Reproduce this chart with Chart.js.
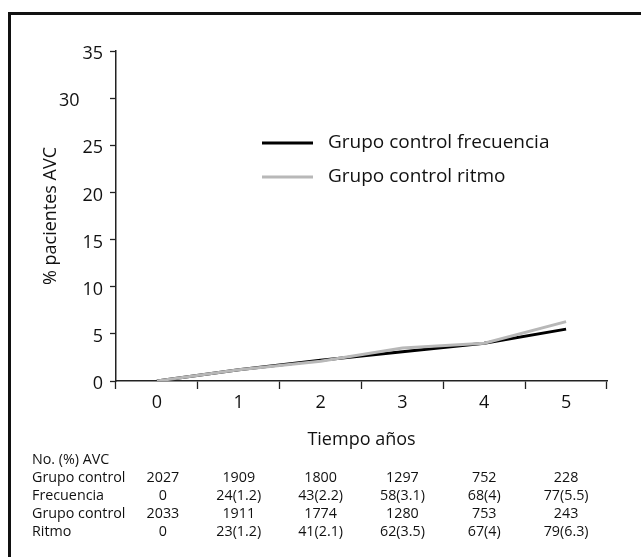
<!DOCTYPE html>
<html>
<head>
<meta charset="utf-8">
<script src="https://cdn.jsdelivr.net/npm/chart.js@4"></script>
<style>
  html, body { margin: 0; padding: 0; background: #fff; }
  #c { display: block; }
</style>
</head>
<body>
<canvas id="c" width="641" height="557"></canvas>
<script>
const years = ['0', '1', '2', '3', '4', '5'];
const frecuencia = [0, 1.2, 2.2, 3.1, 4, 5.5];
const ritmo = [0, 1.2, 2.1, 3.5, 4, 6.3];
const seriesNames = ['Grupo control frecuencia', 'Grupo control ritmo'];
const yTicks = [0, 5, 10, 15, 20, 25, 30, 35];
const tableHeader = 'No. (%) AVC';
const rowLabels = ['Grupo control', 'Frecuencia', 'Grupo control', 'Ritmo'];
const nFrecuencia = ['2027', '1909', '1800', '1297', '752', '228'];
const avcFrecuencia = ['0', '24(1.2)', '43(2.2)', '58(3.1)', '68(4)', '77(5.5)'];
const nRitmo = ['2033', '1911', '1774', '1280', '753', '243'];
const avcRitmo = ['0', '23(1.2)', '41(2.1)', '62(3.5)', '67(4)', '79(6.3)'];
const tableRows = [nFrecuencia, avcFrecuencia, nRitmo, avcRitmo];

const FONT = "'Open Sans', 'Noto Sans', sans-serif";
const BLACK = '#000000';
const GREY = '#b8b8b8';

const framePlugin = {
  id: 'frame',
  beforeDraw(chart) {
    const ctx = chart.ctx;
    ctx.save();
    ctx.fillStyle = '#ffffff';
    ctx.fillRect(0, 0, chart.width, chart.height);
    ctx.fillStyle = '#111';
    ctx.fillRect(8, 12, 3, chart.height - 12);
    ctx.fillRect(8, 12, chart.width - 8, 3);
    ctx.restore();
  }
};

const legendPlugin = {
  id: 'customLegend',
  afterDraw(chart) {
    const ctx = chart.ctx;
    const colors = [BLACK, GREY];
    const ys = [143, 177];
    ctx.save();
    ctx.font = '19px ' + FONT;
    ctx.textBaseline = 'middle';
    ctx.textAlign = 'left';
    seriesNames.forEach((name, i) => {
      ctx.strokeStyle = colors[i];
      ctx.lineWidth = 3;
      ctx.beginPath();
      ctx.moveTo(262, ys[i]);
      ctx.lineTo(313, ys[i]);
      ctx.stroke();
      ctx.fillStyle = '#111';
      ctx.fillText(name, 328, ys[i]);
    });
    ctx.restore();
  }
};

const tablePlugin = {
  id: 'table',
  afterDraw(chart) {
    const ctx = chart.ctx;
    const x = chart.scales.x;
    ctx.save();
    ctx.font = '14.3px ' + FONT;
    ctx.fillStyle = '#111';
    ctx.textBaseline = 'middle';
    ctx.textAlign = 'left';
    const y0 = 460, dy = 18;
    ctx.fillText(tableHeader, 32, y0);
    rowLabels.forEach((lab, r) => {
      ctx.textAlign = 'left';
      ctx.fillText(lab, 32, y0 + dy * (r + 1));
      ctx.textAlign = 'center';
      tableRows[r].forEach((v, i) => {
        ctx.fillText(v, x.getPixelForValue(i) + (i === 0 ? 6 : 0), y0 + dy * (r + 1));
      });
    });
    ctx.restore();
  }
};

new Chart(document.getElementById('c'), {
  type: 'line',
  data: {
    labels: years,
    datasets: [
      {
        label: seriesNames[1],
        data: ritmo,
        borderColor: GREY,
        backgroundColor: GREY,
        borderWidth: 3,
        pointRadius: 0,
        tension: 0,
        fill: false
      },
      {
        label: seriesNames[0],
        data: frecuencia,
        borderColor: BLACK,
        backgroundColor: BLACK,
        borderWidth: 3,
        pointRadius: 0,
        tension: 0,
        fill: false
      }
    ]
  },
  options: {
    responsive: false,
    animation: false,
    devicePixelRatio: 1,
    layout: { padding: { left: 0, top: 51, right: 34, bottom: 106 } },
    plugins: {
      legend: { display: false },
      tooltip: { enabled: false },
      title: { display: false }
    },
    scales: {
      x: {
        type: 'category',
        offset: true,
        afterFit(scale) { scale.height = 70; },
        grid: {
          offset: true,
          drawOnChartArea: false,
          drawTicks: true,
          tickLength: 8,
          tickColor: '#222',
          tickWidth: 1.3
        },
        border: { display: true, color: '#222', width: 1.5 },
        ticks: {
          color: '#111',
          font: { family: FONT, size: 18 },
          padding: 3,
          maxRotation: 0
        },
        title: {
          display: true,
          text: 'Tiempo años',
          color: '#111',
          font: { family: FONT, size: 18 },
          padding: { top: 0, bottom: 0 }
        }
      },
      y: {
        min: 0,
        max: 35,
        afterFit(scale) { scale.width = 116; },
        afterBuildTicks(scale) { scale.ticks = yTicks.map(v => ({ value: v })); },
        grid: {
          drawOnChartArea: false,
          drawTicks: true,
          tickLength: 6,
          tickColor: '#222',
          tickWidth: 1.3
        },
        border: { display: true, color: '#222', width: 1.5 },
        ticks: {
          color: '#111',
          font: { family: FONT, size: 18 },
          padding: 7,
          labelOffset: 3,
          callback(value) {
            return value === 30 ? '30\u00A0\u00A0\u00A0\u00A0\u00A0' : String(value);
          }
        },
        title: {
          display: true,
          text: '% pacientes AVC',
          color: '#111',
          font: { family: FONT, size: 18 },
          padding: { top: 40, bottom: 0 }
        }
      }
    }
  },
  plugins: [framePlugin, legendPlugin, tablePlugin]
});
</script>
</body>
</html>
